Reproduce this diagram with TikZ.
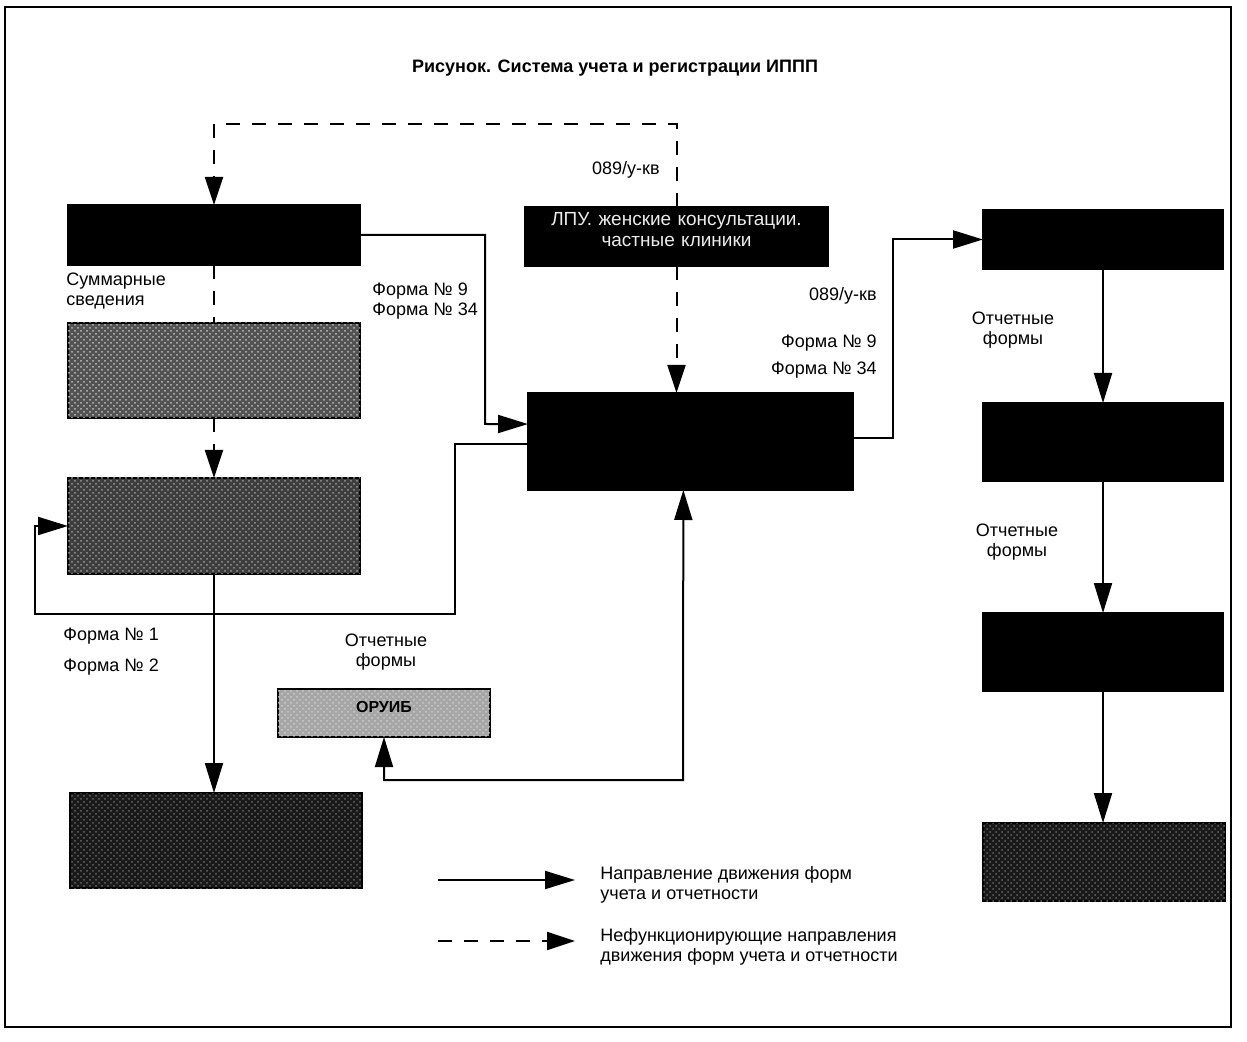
\documentclass[tikz,border=0pt]{standalone}
\usepackage{fontspec}
\setmainfont{Liberation Sans}
\usetikzlibrary{arrows.meta,patterns,fit,calc}
\begin{document}
\begin{tikzpicture}[x=0.5pt,y=-0.5pt,
  box/.style={draw=black, line width=0.6pt, inner sep=0pt, outer sep=0pt},
  blk/.style={box, fill=black},
  hatchA/.style={box, fill=black!68, postaction={pattern=crosshatch dots, pattern color=black!25}},
  hatchB/.style={box, fill=black!76, postaction={pattern=crosshatch dots, pattern color=black!40}},
  hatchC/.style={box, fill=black!35, postaction={pattern=crosshatch dots, pattern color=white!80!black}},
  darkspk/.style={box, fill=black!90, postaction={pattern=crosshatch dots, pattern color=black!60}},
  conn/.style={line width=1pt, -{Triangle[length=15pt,width=9pt]}},
  dline/.style={line width=1pt, dash pattern=on 7pt off 6pt},
  dconn/.style={dline, -{Triangle[length=14pt,width=9pt]}},
  both/.style={line width=1pt, {Triangle[length=15pt,width=9pt]}-{Triangle[length=15pt,width=9pt]}},
  lbl/.style={font=\fontsize{9}{10}\selectfont, inner sep=0pt},
  wtxt/.style={font=\fontsize{9.5}{10.5}\selectfont, text=white!92!black, align=center},
]
\useasboundingbox (0,0) rectangle (1247,1042);
\draw[line width=1pt] (5,7) rectangle (1231,1027);

\node[lbl, font=\bfseries\fontsize{9}{11}\selectfont] (title) at (615,68) {Рисунок. Система учета и регистрации ИППП};

% boxes
\node[blk, fit={(68,205)(360,265)}] (A) {};
\node[hatchA, fit={(68,323)(360,418)}] (B) {};
\node[hatchB, fit={(68,478)(360,574)}] (C) {};
\node[darkspk, fit={(70,793)(362,888)}] (D) {};
\node[blk, fit={(525,207)(828,266)}, wtxt] (E) {ЛПУ. женские консультации.\\частные клиники};
\node[blk, fit={(528,393)(853,490)}] (F) {};
\node[hatchC, fit={(278,689)(490,737)}, font=\bfseries\fontsize{8}{10}\selectfont] (G) {ОРУИБ};
\node[blk, fit={(983,210)(1223,269)}] (R1) {};
\node[blk, fit={(983,403)(1223,481)}] (R2) {};
\node[blk, fit={(983,613)(1223,691)}] (R3) {};
\node[darkspk, fit={(983,823)(1225,901)}] (R4) {};

% helper coordinates
\coordinate (Ein) at ($(F.north west)!0.32!(F.south west)$);
\coordinate (Eout) at ($(F.north west)!0.53!(F.south west)$);
\coordinate (Fr) at ($(F.north east)!0.46!(F.south east)$);
\coordinate (Fb) at ($(F.south west)!0.478!(F.south east)$);
\coordinate (top) at (678,124);

% dashed connectors
\draw[dconn] (E.north) -- (E.north |- top) -| (A.north);
\draw[dconn] (E.south) -- (E.south |- F.north);
\draw[dline] (A.south) -- (B.north);
\draw[dconn] (B.south) -- (C.north);

% solid connectors
\draw[conn] (A.east) -| (485,424) -- (Ein);
\draw[conn] (Eout) -| (455,614) -| (35,526) -- (C.west);
\draw[conn] (C.south) -- (C.south |- D.north);
\draw[both] (G.south) |- (683,780) -- (Fb);
\draw[conn] (Fr) -| (893,239.5) -- (R1.west);
\draw[conn] (R1.south) -- (R2.north);
\draw[conn] (R2.south) -- (R3.north);
\draw[conn] (R3.south) -- (R3.south |- R4.north);

% labels
\node[lbl, anchor=west, align=left] (l1) at (66,291) {Суммарные\\сведения};
\node[lbl, anchor=west, align=left] (l2) at (372,301) {Форма № 9\\Форма № 34};
\node[lbl, anchor=east] (l3) at (660,170) {089/у-кв};
\node[lbl, anchor=east] (l4) at (877,296) {089/у-кв};
\node[lbl, anchor=east] (l5) at (877,343) {Форма № 9};
\node[lbl, anchor=east] (l6) at (877,370) {Форма № 34};
\node[lbl, align=center] (l7) at (1013,330) {Отчетные\\формы};
\node[lbl, align=center] (l8) at (1017,542) {Отчетные\\формы};
\node[lbl, anchor=west] (l9) at (63,636) {Форма № 1};
\node[lbl, anchor=west] (l10) at (63,667) {Форма № 2};
\node[lbl, align=center] (l11) at (386,652) {Отчетные\\формы};

% legend
\coordinate (la1) at (438,880);
\coordinate (lb1) at (575,880);
\coordinate (la2) at (438,941);
\coordinate (lb2) at (575,941);
\draw[conn] (la1) -- (lb1);
\draw[dconn] (la2) -- (lb2);
\node[lbl, anchor=west, align=left] (lt1) at (600,885) {Направление движения форм\\учета и отчетности};
\node[lbl, anchor=west, align=left] (lt2) at (600,947) {Нефункционирующие направления\\движения форм учета и отчетности};
\end{tikzpicture}
\end{document}
